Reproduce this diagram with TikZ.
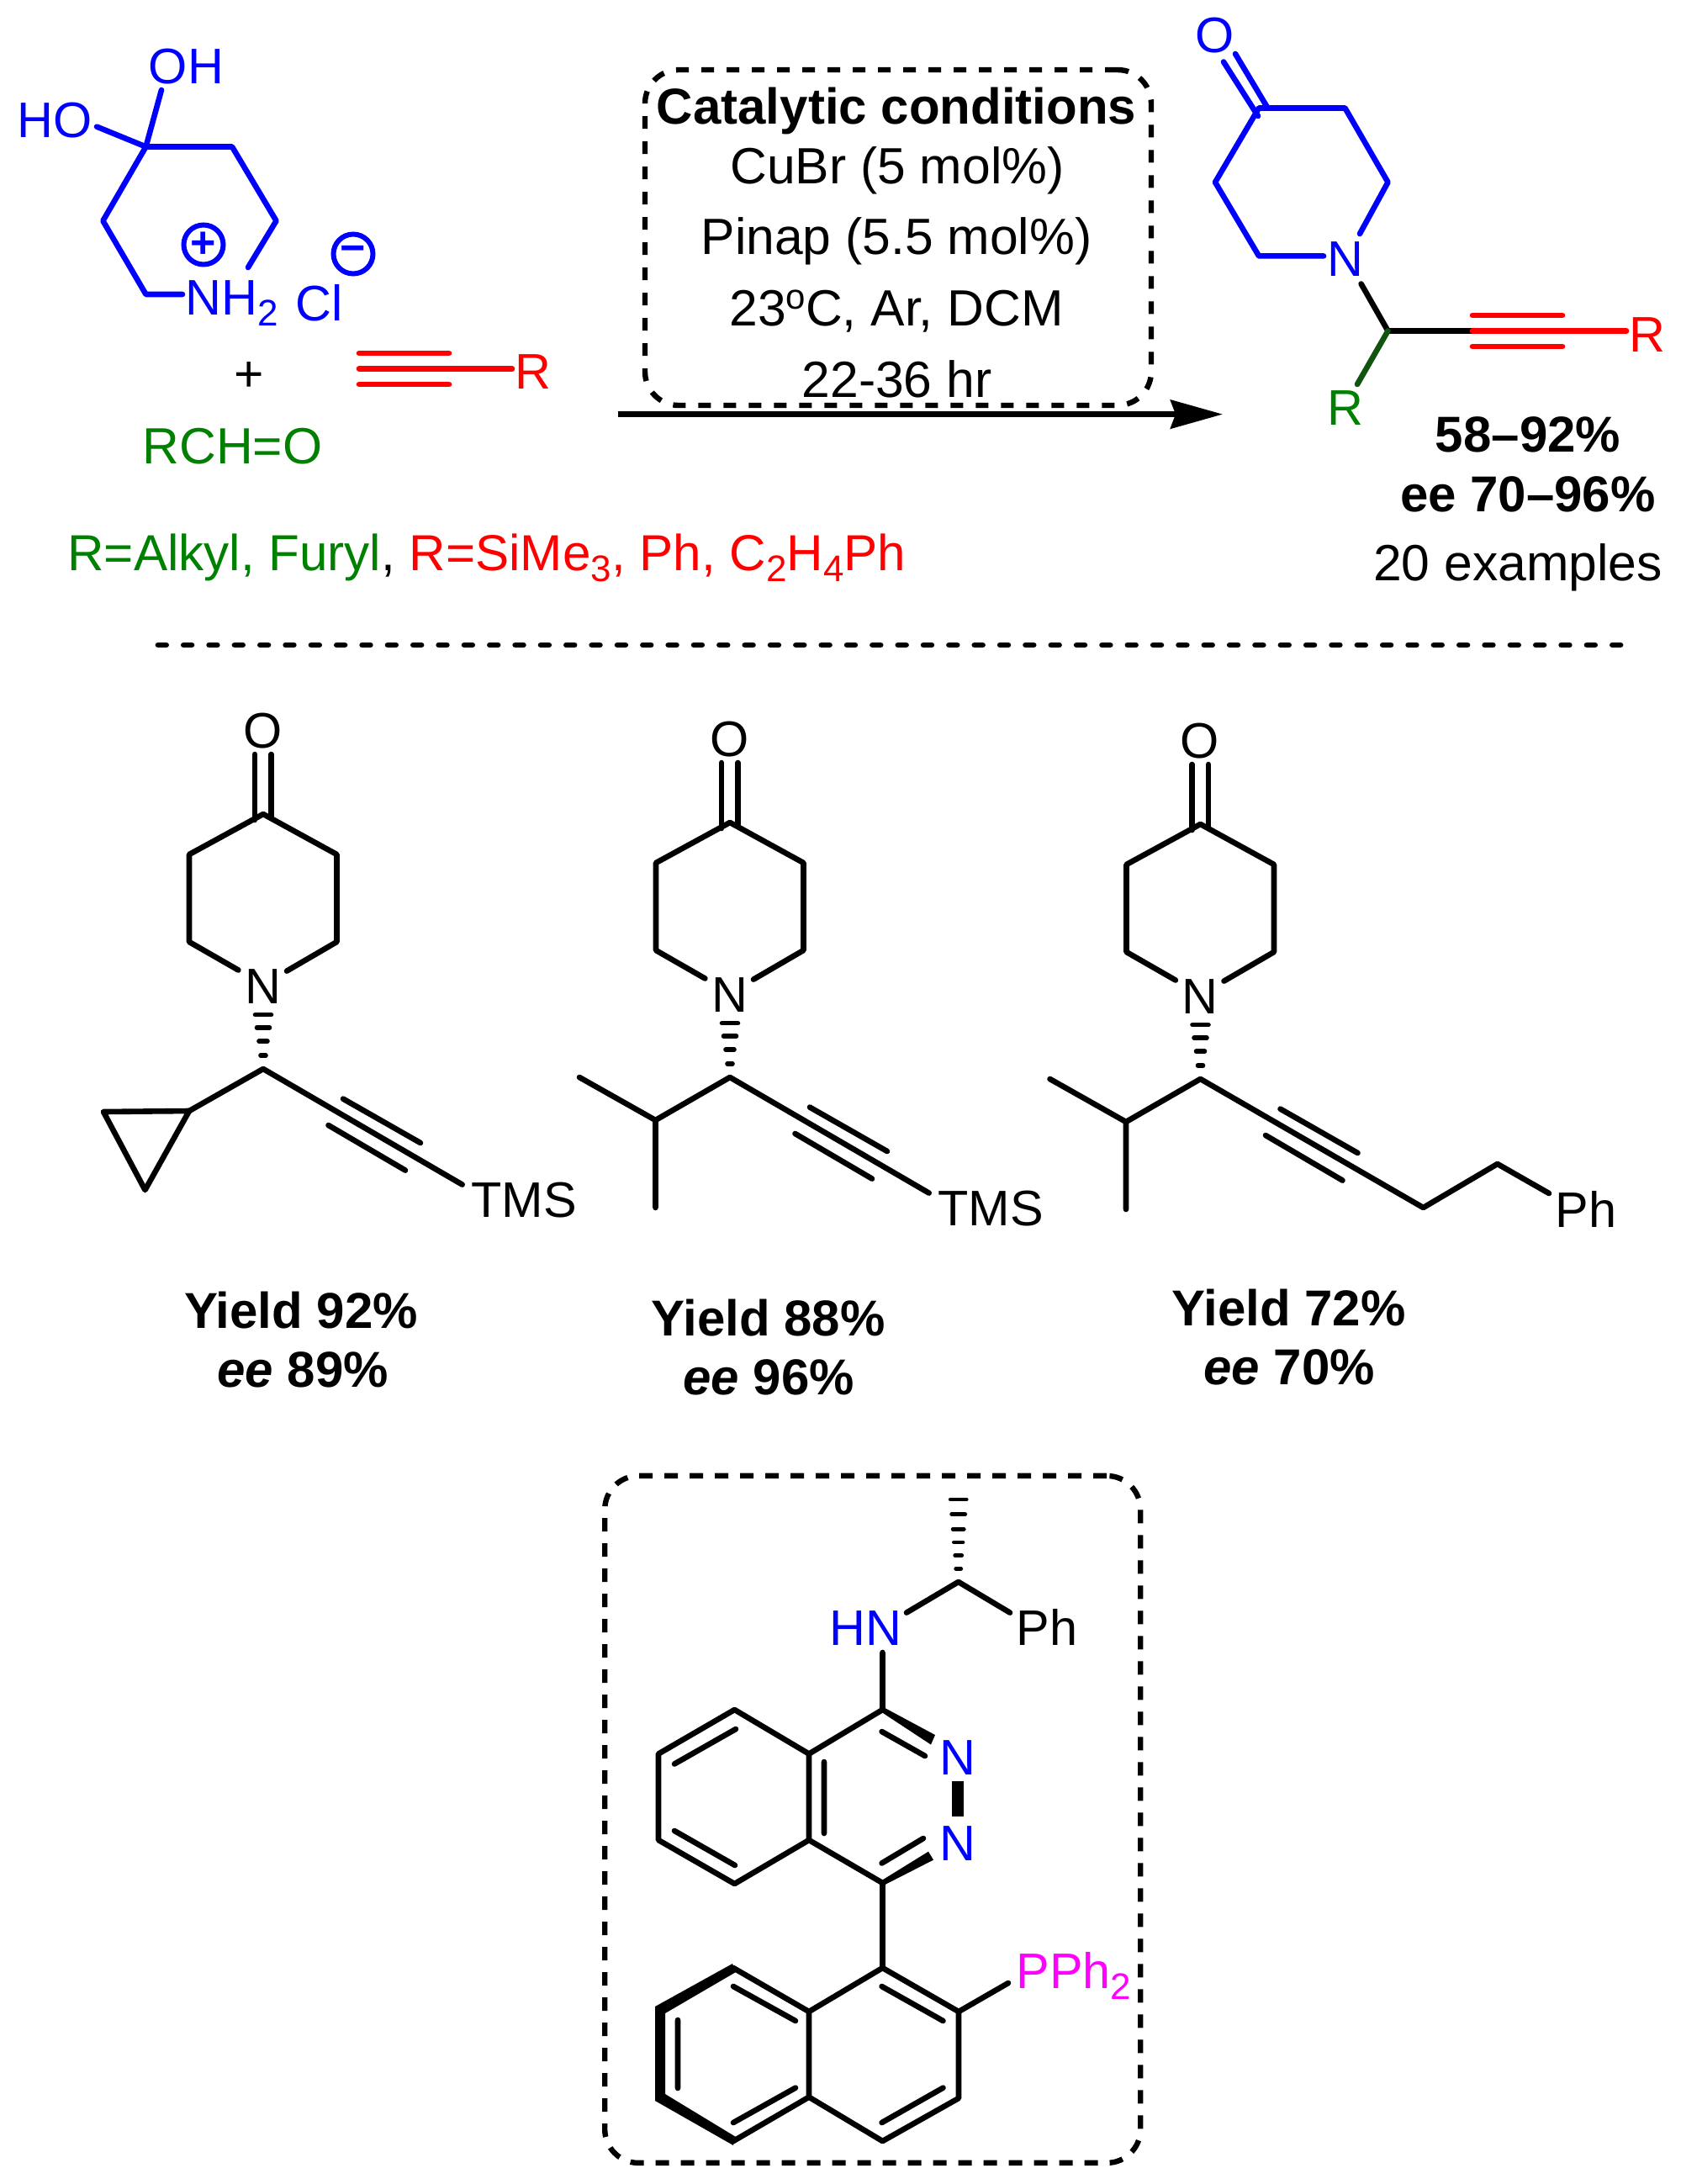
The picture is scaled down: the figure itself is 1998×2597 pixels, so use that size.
\documentclass[tikz,border=0pt]{standalone}
\usepackage{fontspec}
\setmainfont{Liberation Sans}
\usetikzlibrary{arrows.meta,calc}
\definecolor{cblue}{RGB}{0,0,255}
\definecolor{cred}{RGB}{255,0,0}
\definecolor{cgreen}{RGB}{0,128,0}
\definecolor{cdkgreen}{RGB}{16,84,16}
\definecolor{cmag}{RGB}{255,0,255}
\newcommand\sbs[1]{\raisebox{-6.5pt}{\fontsize{22}{22}\selectfont #1}}
\tikzset{
  bond/.style={line width=3.3pt,line cap=round,line join=round},
  hashbar/.style={line width=2.8pt,line cap=round},
  atom/.style={inner sep=0pt,anchor=base,font=\fontsize{29.7}{35}\selectfont},
  txt/.style={inner sep=0pt,anchor=base,font=\fontsize{30.3}{36}\selectfont},
  btxt/.style={inner sep=0pt,anchor=base,font=\fontsize{30}{36}\selectfont\bfseries},
  framebox/.style={draw,line width=3.2pt,rounded corners=20pt,inner sep=0pt,dash pattern=on 7.5pt off 7.5pt},
  charge/.style={circle,draw=cblue,text=cblue,line width=3pt,minimum size=23.5pt,inner sep=0pt,font=\fontsize{26}{26}\selectfont\bfseries},
}
\newcommand\ketopip{%
  \coordinate (c4) at (313,968);
  \coordinate (c3r) at (400.5,1016);
  \coordinate (c2r) at (400.5,1120);
  \coordinate (nr) at (341,1154.6);
  \coordinate (c3l) at (225,1016);
  \coordinate (c2l) at (225,1120);
  \coordinate (nl) at (283.4,1153.5);
  \coordinate (oa) at (303,897); \coordinate (ob) at (322.5,897);
  \coordinate (cb) at (322.5,972);
  \coordinate (ca2) at (303,975);
  \coordinate (nb) at (313,1204);
  \coordinate (cs) at (313,1271);
  \coordinate (ys) at (549.7,1408.6);
  \coordinate (ya) at (408,1306.6); \coordinate (yb) at (500,1359);
  \coordinate (yc) at (390.5,1338); \coordinate (yd) at (482,1391.6);
  \node[atom] (o) at (312.5,889) {O};
  \node[atom] (n) at (312.5,1193) {N};
  \draw[bond] (nl) -- (c2l) -- (c3l) -- (c4) -- (c3r) -- (c2r) -- (nr);
  \draw[bond] (oa) -- (ca2) (ob) -- (cb);
  \foreach \t/\w in {.24/3,.49/5,.73/7.5,.96/9.5}
    \draw[hashbar] ($(cs)!\t!(nb)$) +(-\w,0) -- +(\w,0);
  \draw[bond] (ya) -- (yb) (yc) -- (yd);
}
\begin{document}
\begin{tikzpicture}[x=0.5pt,y=-0.5pt]
\useasboundingbox (0,0) rectangle (1998,2597);

% ---- reactants
\coordinate (a1) at (173.5,174.5);
\coordinate (a2) at (276,174.5);
\coordinate (a3) at (328.5,262.6);
\coordinate (a4) at (295,318);
\coordinate (a5) at (122.4,262.6);
\coordinate (a6) at (173.5,350);
\coordinate (a7) at (217,350);
\coordinate (aoh) at (192,107);
\coordinate (aho) at (115,150.6);
\node[atom,text=cblue] (oh) at (221.5,99) {OH};
\node[atom,text=cblue] (ho) at (65.5,163) {HO};
\node[atom,text=cblue,anchor=base west] (nh2) at (220,374) {NH\sbs{2}};
\node[atom,text=cblue,anchor=base west] (cl) at (351,381) {Cl};
\node[charge] (pl) at (242,291) {+};
\node[charge] (mi) at (420,302) {−};
\draw[bond,cblue] (a4) -- (a3) -- (a2) -- (a1) -- (a5) -- (a6) -- (a7);
\draw[bond,cblue] (aoh) -- (a1) -- (aho);
\node[txt] (plus) at (296.5,465) {+};
\node[txt,text=cgreen] (rcho) at (276.5,551) {RCH=O};
\coordinate (b1) at (427,438.5); \coordinate (b2) at (534,438.5); \coordinate (b3) at (609,438.5);
\coordinate (b4) at (427,420); \coordinate (b5) at (534,420);
\coordinate (b6) at (427,457); \coordinate (b7) at (534,457);
\node[atom,text=cred] (ra) at (633.5,462) {R};
\draw[bond,cred] (b1) -- (b3) (b4) -- (b5) (b6) -- (b7);
\node[txt,font=\fontsize{30.1}{36}\selectfont,anchor=base west] (rdef) at (80,678) {\textcolor{cgreen}{R=Alkyl, Furyl}\textcolor{black}{,} \textcolor{cred}{R=SiMe\sbs{3}, Ph, C\sbs{2}H\sbs{4}Ph}};

% ---- conditions
\node[framebox,minimum width=301pt,minimum height=199.5pt] (cond) at (1068,282.5) {};
\node[btxt] (t1) at (1066,147.5) {Catalytic conditions};
\node[txt] (t2) at (1067,218.5) {CuBr (5 mol\%)};
\node[txt] (t3) at (1066,302) {Pinap (5.5 mol\%)};
\node[txt] (t4) at (1066,387.5) {23\raisebox{10pt}{\fontsize{21}{21}\selectfont o}C, Ar, DCM};
\node[txt] (t5) at (1066.5,472.5) {22-36 hr};
\coordinate (arrS) at (735,492.6);
\coordinate (arrE) at (1454,492.6);
\draw[line width=3.2pt,-{Stealth[length=31pt,width=17pt,inset=3pt]}] (arrS) -- (arrE);

% ---- product
\coordinate (p1) at (1497,128.5);
\coordinate (p2) at (1599.5,128.5);
\coordinate (p3) at (1650.5,216.7);
\coordinate (p4) at (1617,278);
\coordinate (p5) at (1445,216.7);
\coordinate (p6) at (1497,304.4);
\coordinate (p7) at (1574,304.4);
\coordinate (po1) at (1469,64); \coordinate (po2) at (1507,127.6);
\coordinate (po3) at (1455,73.5); \coordinate (po4) at (1496,138);
\coordinate (pn) at (1618.6,337.5);
\coordinate (pc) at (1650.5,393.5);
\coordinate (pr) at (1614,457);
\coordinate (py1) at (1751,393.5); \coordinate (py2) at (1934,393.5);
\coordinate (py3) at (1751,375); \coordinate (py4) at (1858,375);
\coordinate (py5) at (1751,412); \coordinate (py6) at (1858,412);
\node[atom,text=cblue] (po) at (1445,62.5) {O};
\node[atom,text=cblue] (pN) at (1599.5,328) {N};
\node[atom,text=cred] (pR1) at (1958.5,418) {R};
\node[atom,text=cgreen] (pR2) at (1599.5,505) {R};
\draw[bond,cblue] (p4) -- (p3) -- (p2) -- (p1) -- (p5) -- (p6) -- (p7);
\draw[bond,cblue] (po1) -- (po2) (po3) -- (po4);
\draw[bond] (pn) -- (pc) -- (py1);
\draw[bond,cdkgreen] (pc) -- (pr);
\draw[bond,cred] (py1) -- (py2) (py3) -- (py4) (py5) -- (py6);
\node[btxt] (s1) at (1817,537.5) {58–92\%};
\node[btxt] (s2) at (1817,608) {ee 70–96\%};
\node[txt] (s3) at (1805,690.5) {20 examples};

% ---- divider
\coordinate (d1) at (188,767);
\coordinate (d2) at (1927,767);
\draw[line width=3.4pt,line cap=round,dash pattern=on 4.8pt off 10.37pt] (d1) -- (d2);

% ---- example 1
\begin{scope}[name prefix=m1-]
\ketopip
\coordinate (r1) at (225,1321); \coordinate (r2) at (123,1322); \coordinate (r3) at (172.5,1415);
\draw[bond] (ys) -- (cs) -- (r1);
\draw[bond] (r1) -- (r2) -- (r3) -- cycle;
\node[atom] (tms) at (623,1447) {TMS};
\end{scope}
\node[btxt] (y1) at (358,1579) {Yield 92\%};
\node[btxt] (e1) at (360,1649) {\itshape ee\upshape{} 89\%};

% ---- example 2
\begin{scope}[shift={(555,10)},name prefix=m2-]
\ketopip
\coordinate (r1) at (224.5,1322); \coordinate (r2) at (134,1271); \coordinate (r3) at (224.5,1426);
\draw[bond] (ys) -- (cs) -- (r1) -- (r2) (r1) -- (r3);
\node[atom] (tms) at (623,1447) {TMS};
\end{scope}
\node[btxt] (y2) at (913.5,1588) {Yield 88\%};
\node[btxt] (e2) at (914,1658) {\itshape ee\upshape{} 96\%};

% ---- example 3
\begin{scope}[shift={(1114.5,12)},name prefix=m3-]
\ketopip
\coordinate (r1) at (224.5,1322); \coordinate (r2) at (134,1271); \coordinate (r3) at (224.5,1426);
\coordinate (w1) at (578,1424); \coordinate (w2) at (666.2,1372); \coordinate (w3) at (727.5,1407);
\draw[bond] (w3) -- (w2) -- (w1) -- (cs) -- (r1) -- (r2) (r1) -- (r3);
\node[atom] (ph) at (771.5,1447) {Ph};
\end{scope}
\node[btxt] (y3) at (1532.5,1576.5) {Yield 72\%};
\node[btxt] (e3) at (1533,1646) {\itshape ee\upshape{} 70\%};

% ---- ligand
\node[framebox,dash pattern=on 8pt off 7pt,minimum width=318.5pt,minimum height=408.5pt] (lig) at (1037.7,2163.4) {};
\coordinate (hc) at (1139.7,1881);
\coordinate (hm) at (1139.7,1783);
\coordinate (hn) at (1078,1917.6);
\coordinate (hp) at (1201,1917.6);
\coordinate (nb1) at (1049.5,1965);
\coordinate (k1) at (1049.5,2033);
\coordinate (k2) at (962,2085.5);
\coordinate (k3) at (962,2188);
\coordinate (k4) at (1049.5,2239);
\coordinate (g1) at (873.5,2033);
\coordinate (g2) at (783,2085.5);
\coordinate (g3) at (783,2188);
\coordinate (g4) at (873.5,2240);
\coordinate (i1) at (875,2056); \coordinate (i2) at (802,2097.5);
\coordinate (i3) at (802,2177); \coordinate (i4) at (874,2218);
\coordinate (i5) at (980,2095); \coordinate (i6) at (980,2180);
\coordinate (i7) at (1048.6,2059); \coordinate (i8) at (1100,2088);
\coordinate (i9) at (1048.6,2215.5); \coordinate (i10) at (1098,2186);
\node[atom,text=cblue] (HN) at (1029,1956) {HN};
\node[atom] (Ph) at (1245,1956) {Ph};
\node[atom,text=cblue] (N1) at (1138.5,2110) {N};
\node[atom,text=cblue] (N2) at (1138.5,2212) {N};
\node[atom,text=cmag,anchor=base west] (pph) at (1208,2364) {PPh\sbs{2}};
\foreach \t/\w in {.16/3,.32/4,.48/5.3,.64/6.5,.82/8,1/9.5}
  \draw[hashbar,line width=2.4pt] ($(hc)!\t!(hm)$) +(-\w,0) -- +(\w,0);
\draw[bond] (hn) -- (hc) -- (hp);
\draw[bond] (nb1) -- (k1) -- (k2) -- (k3) -- (k4);
\draw[bond] (k2) -- (g1) -- (g2) -- (g3) -- (g4) -- (k3);
\draw[bond] (i1) -- (i2) (i3) -- (i4) (i5) -- (i6) (i7) -- (i8) (i9) -- (i10);
\coordinate (w1a) at (1112,2063); \coordinate (w1b) at (1107,2074.5);
\coordinate (w2a) at (1104,2201.7); \coordinate (w2b) at (1110,2211.6);
\fill (k1) +(1,-3) -- (w1a) -- (w1b) -- ($(k1)+(-1,3)$) -- cycle;
\fill (k4) +(-1,-3) -- (w2a) -- (w2b) -- ($(k4)+(1,3)$) -- cycle;
\coordinate (nn1) at (1139,2118); \coordinate (nn2) at (1139,2159.5);
\draw[line width=7pt] (nn1) -- (nn2);
% naphthyl
\coordinate (q1) at (1049.5,2340);
\coordinate (q2) at (1140,2392);
\coordinate (q3) at (1140,2495);
\coordinate (q4) at (1049.5,2546);
\coordinate (q5) at (962,2493.6);
\coordinate (q6) at (962,2392);
\coordinate (q7) at (872,2340);
\coordinate (q10) at (872,2546);
\coordinate (qp) at (1199,2358);
\draw[bond] (k4) -- (q1) -- (q2) -- (q3) -- (q4) -- (q5) -- (q6) -- (q1);
\draw[bond] (q2) -- (qp);
\draw[bond] (q6) -- (q7) (q5) -- (q10);
\coordinate (o1) at (871,2335); \coordinate (o2) at (779,2386); \coordinate (o3) at (779,2498);
\coordinate (o4) at (872,2551); \coordinate (o5) at (875,2541); \coordinate (o6) at (791,2490);
\coordinate (o7) at (791,2394); \coordinate (o8) at (875,2345);
\fill (o1) -- (o2) -- (o3) -- (o4) -- (o5) -- (o6) -- (o7) -- (o8) -- cycle;
\coordinate (j1) at (1048.6,2362); \coordinate (j2) at (1121.5,2403);
\coordinate (j3) at (1121.5,2482.6); \coordinate (j4) at (1048.6,2524);
\coordinate (j5) at (872,2362); \coordinate (j6) at (946,2403);
\coordinate (j7) at (946,2482.6); \coordinate (j8) at (872,2524);
\coordinate (j9) at (806,2402); \coordinate (j10) at (806,2483);
\draw[bond] (j1) -- (j2) (j3) -- (j4) (j5) -- (j6) (j7) -- (j8) (j9) -- (j10);
\end{tikzpicture}
\end{document}
